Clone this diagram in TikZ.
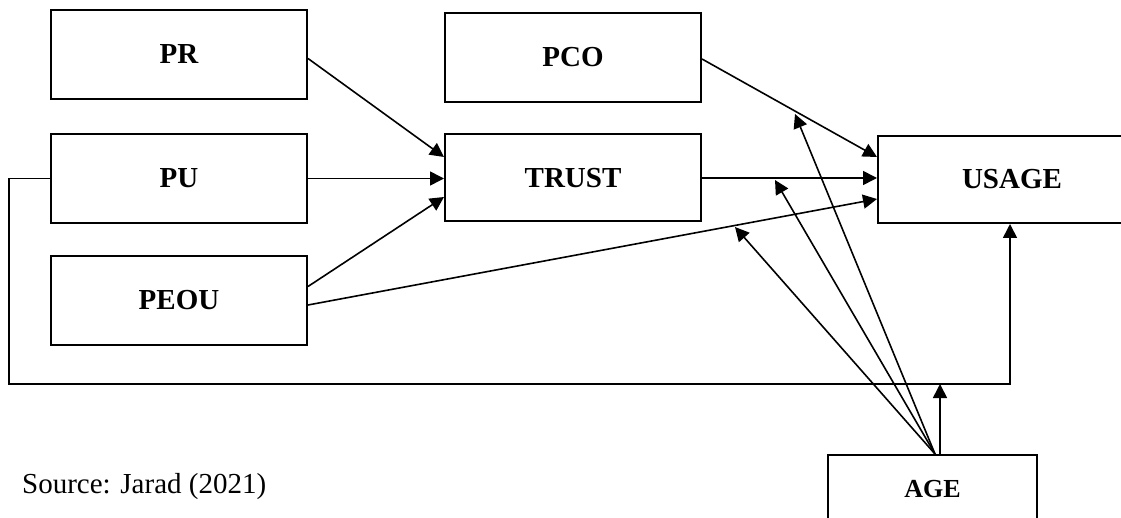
\documentclass[tikz,border=0pt]{standalone}
\usepackage{fontspec}
\setmainfont{Liberation Serif}
\usetikzlibrary{arrows.meta,calc}
\tikzset{
  box/.style={draw, line width=2pt, rectangle, minimum width=256pt, minimum height=89pt, inner sep=0pt,
    font=\fontsize{29}{34}\selectfont\bfseries},
  arr/.style={line width=1.6pt, -{Triangle[length=14pt,width=14pt]}},
  ln/.style={line width=1.6pt}
}
\begin{document}
\begin{tikzpicture}[x=1pt,y=-1pt]
\useasboundingbox (0,0) rectangle (1121,518);
\clip (0,0) rectangle (1121,518);
\node[box] (pr) at (179,54.5) {PR};
\node[box] (pu) at (179,178.5) {PU};
\node[box] (peou) at (179,300.5) {PEOU};
\node[box] (pco) at (573,57.5) {PCO};
\node[box, minimum height=87pt] (trust) at (573,178) {TRUST};
\node[box, minimum width=268pt, minimum height=87pt] (usage) at (1012,179.5) {USAGE};
\node[box, minimum width=209pt, minimum height=68pt, font=\fontsize{26}{30}\selectfont\bfseries] (age) at (932.5,489) {AGE};
\node[anchor=base west, inner sep=0pt, font=\fontsize{29}{34}\selectfont] (src) at (22,493) {Source: Jarad (2021)};

% predictors to trust
\draw[arr] ($(pr.east)+(0,4)$) -- ($(trust.west)+(0,-21)$);
\draw[arr] (pu.east) -- (pu.east -| trust.west);
\draw[arr] ($(peou.east)+(0,-14)$) -- ($(trust.west)+(0,19)$);
% to usage
\draw[arr] ($(pco.east)+(0,1.5)$) -- ($(usage.west)+(0,-22.5)$);
\draw[arr] (trust.east) -- (trust.east -| usage.west);
\draw[arr] ($(peou.east)+(0,4.5)$) -- ($(usage.west)+(0,19.5)$);
% moderators
\coordinate (agetop) at ($(age.north)+(2.5,0)$);
\coordinate (m1) at (795,114);
\coordinate (m2) at (775,180);
\coordinate (m3) at (735,227);
\draw[arr] (agetop) -- (m1);
\draw[arr] (agetop) -- (m2);
\draw[arr] (agetop) -- (m3);
% feedback loop
\coordinate (fb) at (1010,384);
\draw[arr] ($(age.north)+(7.5,0)$) -- ($(age.north)+(7.5,-70)$);
\draw[arr] (pu.west) -- ++(-41,0) |- (fb) -- (fb |- usage.south);
\end{tikzpicture}
\end{document}
